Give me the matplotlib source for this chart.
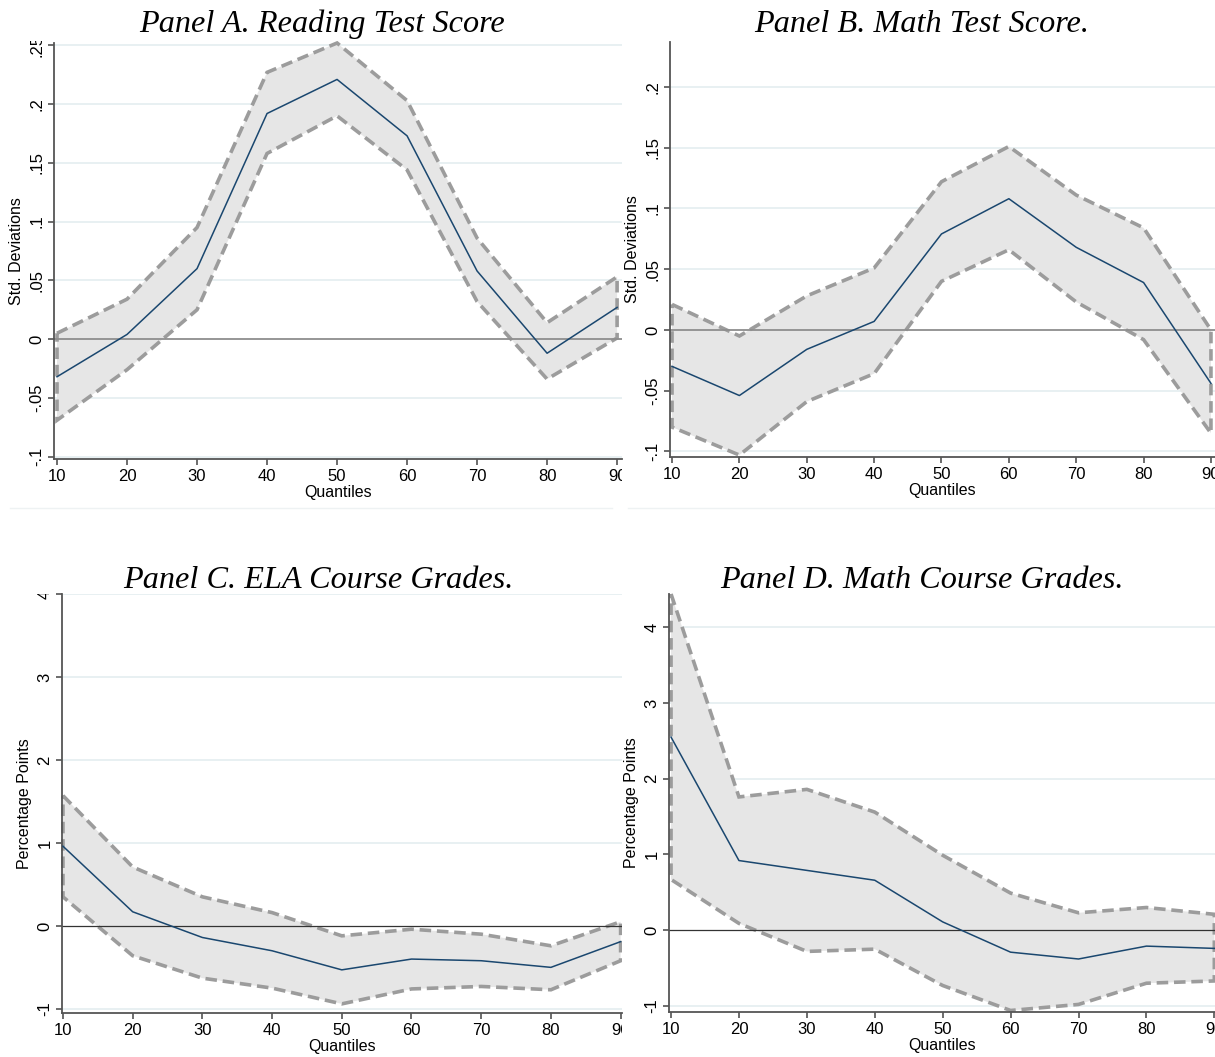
import matplotlib.pyplot as plt
from matplotlib.lines import Line2D
from matplotlib.transforms import Bbox, TransformedBbox

plt.rcParams['font.family'] = ['Liberation Sans', 'DejaVu Sans']

quantiles = [10, 20, 30, 40, 50, 60, 70, 80, 90]

# Panel A. Reading test score (std. deviations)
read_est = [-0.032, 0.004, 0.060, 0.192, 0.221, 0.173, 0.058, -0.012, 0.027]
read_hi = [0.005, 0.034, 0.095, 0.227, 0.252, 0.203, 0.086, 0.014, 0.053]
read_lo = [-0.069, -0.026, 0.025, 0.158, 0.190, 0.144, 0.032, -0.034, 0.001]

# Panel B. Math test score (std. deviations)
math_est = [-0.030, -0.054, -0.016, 0.007, 0.079, 0.108, 0.068, 0.039, -0.044]
math_hi = [0.021, -0.005, 0.028, 0.051, 0.122, 0.151, 0.111, 0.084, 0.000]
math_lo = [-0.080, -0.103, -0.059, -0.036, 0.040, 0.066, 0.023, -0.008, -0.085]

# Panel C. ELA course grades (percentage points)
ela_est = [0.96, 0.17, -0.14, -0.30, -0.53, -0.40, -0.42, -0.50, -0.19]
ela_hi = [1.57, 0.71, 0.35, 0.16, -0.12, -0.04, -0.10, -0.24, 0.05]
ela_lo = [0.35, -0.36, -0.63, -0.75, -0.94, -0.76, -0.73, -0.77, -0.42]

# Panel D. Math course grades (percentage points)
mcg_est = [2.55, 0.92, 0.79, 0.66, 0.11, -0.29, -0.38, -0.21, -0.24]
mcg_hi = [4.44, 1.76, 1.86, 1.56, 0.99, 0.49, 0.23, 0.30, 0.21]
mcg_lo = [0.67, 0.09, -0.28, -0.25, -0.73, -1.06, -0.98, -0.70, -0.67]

sd_ticks_a = [-0.1, -0.05, 0, 0.05, 0.1, 0.15, 0.2, 0.25]
sd_labels_a = ['-.1', '-.05', '0', '.05', '.1', '.15', '.2', '.25']
sd_ticks_b = [-0.1, -0.05, 0, 0.05, 0.1, 0.15, 0.2]
sd_labels_b = ['-.1', '-.05', '0', '.05', '.1', '.15', '.2']
pp_ticks_c = [-1, 0, 1, 2, 3, 4]
pp_ticks_d = [-1, 0, 1, 2, 3, 4]

W, H = 1215, 1057
fig = plt.figure(figsize=(W / 100, H / 100), dpi=100)


def px_axes(left, top, right, bottom):
    return fig.add_axes([left / W, 1 - bottom / H, (right - left) / W, (bottom - top) / H])


def px_clip(left, top, right, bottom):
    return TransformedBbox(Bbox.from_extents(left / W, 1 - bottom / H, right / W, 1 - top / H),
                           fig.transFigure)


def panel(ax, est, lo, hi, yticks, ylabels, ylim, xlim, ylabel, zero_color, zero_lw, clip):
    ax.fill(quantiles + quantiles[::-1], hi + lo[::-1], facecolor='#e6e6e6',
            edgecolor='#9c9c9c', linewidth=2.6, linestyle=(0, (3.2, 1.6)), zorder=2)
    ax.plot(quantiles, est, color='#1a476f', linewidth=1.1, zorder=3)
    for t in yticks:
        if t == 0:
            continue
        ax.axhline(t, color='#e6eff1', linewidth=1.3, zorder=1)
    ax.axhline(0, color=zero_color, linewidth=zero_lw, zorder=2.5)
    ax.set_xlim(*xlim)
    ax.set_ylim(*ylim)
    ax.set_xticks(quantiles)
    ax.set_xticklabels([str(q) for q in quantiles])
    ax.set_yticks(yticks)
    ax.set_yticklabels(ylabels, rotation=90, va='center')
    ax.tick_params(axis='both', labelsize=12, length=4, width=1.1, color='#444444', pad=3)
    ax.set_xlabel('Quantiles', fontsize=11.5, labelpad=1)
    ax.set_ylabel(ylabel, fontsize=11.5, labelpad=4)
    for s in ('top', 'right'):
        ax.spines[s].set_visible(False)
    for s in ('left', 'bottom'):
        ax.spines[s].set_color('#555555')
        ax.spines[s].set_linewidth(1.3)
    for p in ax.patches:
        p.set_clip_on(True)
        p.set_clip_box(clip)
    for lab in ax.get_xticklabels() + ax.get_yticklabels():
        lab.set_clip_on(True)
        lab.set_clip_box(clip)


# each panel is cropped on the right/top, so labels and bands get cut there
clip_a = px_clip(0, 41, 622, 515)
clip_b = px_clip(625, 38, 1215, 515)
clip_c = px_clip(0, 594, 622, 1057)
clip_d = px_clip(625, 590, 1215, 1057)

ax_a = px_axes(54, 43, 622, 459)
panel(ax_a, read_est, read_lo, read_hi, sd_ticks_a, sd_labels_a, (-0.102, 0.252), (9.57, 90.7),
      'Std. Deviations', '#8e8e8e', 1.3, clip_a)

ax_b = px_axes(670, 42, 1215, 457)
panel(ax_b, math_est, math_lo, math_hi, sd_ticks_b, sd_labels_b, (-0.1046, 0.237), (9.7, 90.6),
      'Std. Deviations', '#8e8e8e', 1.3, clip_b)

ax_c = px_axes(62, 594, 622, 1013)
panel(ax_c, ela_est, ela_lo, ela_hi, pp_ticks_c, [str(t) for t in pp_ticks_c], (-1.05, 4.0),
      (9.86, 90.2), 'Percentage Points', '#333333', 0.9, clip_c)

ax_d = px_axes(669, 594, 1215, 1012)
panel(ax_d, mcg_est, mcg_lo, mcg_hi, pp_ticks_d, [str(t) for t in pp_ticks_d], (-1.08, 4.44),
      (9.7, 90.1), 'Percentage Points', '#333333', 0.9, clip_d)

titles = ['Panel A. Reading Test Score', 'Panel B. Math Test Score.',
          'Panel C. ELA Course Grades.', 'Panel D. Math Course Grades.']
title_pos = [(322, 32), (922, 32), (318, 588), (922, 588)]
for txt, (x, y) in zip(titles, title_pos):
    fig.text(x / W, 1 - y / H, txt, ha='center', va='baseline', fontsize=23.2,
             family=['Liberation Serif', 'DejaVu Serif'], style='italic')

# faint graph-region borders under the top row
for x0, x1 in ((10, 612), (628, 1215)):
    fig.add_artist(Line2D([x0 / W, x1 / W], [1 - 508 / H, 1 - 508 / H],
                          transform=fig.transFigure, color='#eef2f3', linewidth=1.0))

fig.savefig('out.png', dpi=100, facecolor='white')
